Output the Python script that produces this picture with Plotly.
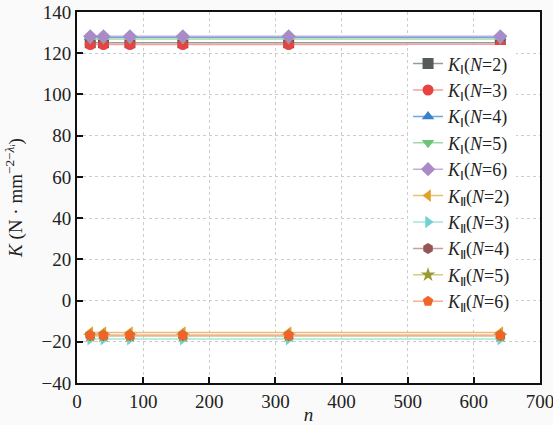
import plotly.graph_objects as go

n_values = [20, 40, 80, 160, 320, 640]

k1_N2 = [125.1] * 6
k1_N3 = [124.2] * 6
k1_N4 = [127.7] * 6
k1_N5 = [126.9] * 6
k1_N6 = [128.2] * 6
k2_N2 = [-15.5] * 6
k2_N3 = [-18.7] * 6
k2_N4 = [-17.0] * 6
k2_N5 = [-17.2] * 6
k2_N6 = [-16.8] * 6

x_ticks = [0, 100, 200, 300, 400, 500, 600, 700]
y_ticks = [-40, -20, 0, 20, 40, 60, 80, 100, 120, 140]

series = [
    ("<i>K</i><sub>Ⅰ</sub>(<i>N</i>=2)", k1_N2, "#9a9a9a", "#555a5a", "square"),
    ("<i>K</i><sub>Ⅰ</sub>(<i>N</i>=3)", k1_N3, "#f4a0a0", "#e84343", "circle"),
    ("<i>K</i><sub>Ⅰ</sub>(<i>N</i>=4)", k1_N4, "#6fa6dc", "#3b80c9", "triangle-up"),
    ("<i>K</i><sub>Ⅰ</sub>(<i>N</i>=5)", k1_N5, "#9fdaa8", "#6cc47c", "triangle-down"),
    ("<i>K</i><sub>Ⅰ</sub>(<i>N</i>=6)", k1_N6, "#c2b0dc", "#a98bc8", "diamond"),
    ("<i>K</i><sub>Ⅱ</sub>(<i>N</i>=2)", k2_N2, "#e8c070", "#e0a22a", "triangle-left"),
    ("<i>K</i><sub>Ⅱ</sub>(<i>N</i>=3)", k2_N3, "#a8e2e2", "#72d0d0", "triangle-right"),
    ("<i>K</i><sub>Ⅱ</sub>(<i>N</i>=4)", k2_N4, "#c9a0a0", "#955656", "hexagon"),
    ("<i>K</i><sub>Ⅱ</sub>(<i>N</i>=5)", k2_N5, "#cfcf80", "#9a9a32", "star"),
    ("<i>K</i><sub>Ⅱ</sub>(<i>N</i>=6)", k2_N6, "#f6b090", "#f06428", "pentagon"),
]

fig = go.Figure()
for name, vals, lc, mc, sym in series:
    fig.add_trace(go.Scatter(
        x=n_values, y=vals, name=name, mode="lines+markers",
        line=dict(color=lc, width=1.5),
        marker=dict(symbol=sym, size=11, color=mc, line=dict(width=0)),
    ))

font_family = "Liberation Serif"
fig.update_layout(
    template="none",
    width=553, height=425,
    margin=dict(l=77, r=13, t=12, b=42, autoexpand=False),
    paper_bgcolor="#fafafa",
    plot_bgcolor="white",
    font=dict(family=font_family, size=18, color="#222"),
    showlegend=True,
    legend=dict(
        x=0.715, y=0.91, xanchor="left", yanchor="top",
        bgcolor="white", borderwidth=0,
        font=dict(family=font_family, size=18, color="#222"),
        itemwidth=30, tracegroupgap=0,
    ),
)
fig.update_xaxes(
    range=[0, 700], tickvals=x_ticks, automargin=False,
    ticklabeloverflow="allow",
    tickfont=dict(family=font_family, size=19, color="#222"),
    showline=True, linecolor="#111", linewidth=2, mirror=True,
    ticks="inside", ticklen=6, tickwidth=2, tickcolor="#111",
    showgrid=True, gridcolor="#cccccc", griddash="dot", gridwidth=1,
    zeroline=False,
    title=dict(text="<i>n</i>", font=dict(family=font_family, size=19), standoff=0),
)
fig.update_yaxes(
    range=[-40, 140], tickvals=y_ticks, automargin=False,
    ticklabeloverflow="allow",
    tickformat="d",
    tickfont=dict(family=font_family, size=19, color="#222"),
    showline=True, linecolor="#111", linewidth=2, mirror=True,
    ticks="inside", ticklen=6, tickwidth=2, tickcolor="#111",
    showgrid=True, gridcolor="#cccccc", griddash="dot", gridwidth=1,
    zeroline=False,
    title=dict(text="<i>K</i> (N · mm<sup>−2−<i>λ</i>ᵢ</sup>)", font=dict(family=font_family, size=19), standoff=14),
)
fig.write_html("out.html", post_script="document.body.style.margin='0';",
               config={"displayModeBar": False})
